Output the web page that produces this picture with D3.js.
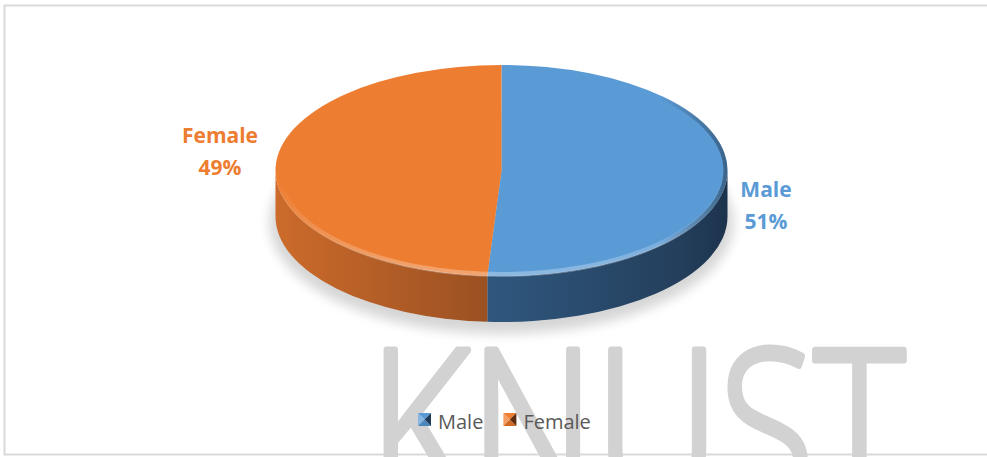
<!DOCTYPE html>
<html>
<head>
<meta charset="utf-8">
<script src="https://cdn.jsdelivr.net/npm/d3@7"></script>
<style>
  body { margin: 0; background: #fff; }
  svg { display: block; }
</style>
</head>
<body>
<div id="chart"></div>
<script>
// data
let categories = ["Male", "Female"];
let shares = [51, 49];
let colors = ["#5b9bd5", "#ed7d31"];

let svgWidth = 987;
let svgHeight = 457;

let svg = d3.select("#chart")
    .append("svg")
    .attr("width", svgWidth)
    .attr("height", svgHeight);

let defs = svg.append("defs");

// chart area border
svg.append("rect")
    .attr("x", 4.5)
    .attr("y", 5.5)
    .attr("width", 1000)
    .attr("height", 449)
    .attr("fill", "#fff")
    .attr("stroke", "#d9d9d9")
    .attr("stroke-width", 2);

// watermark behind everything else
svg.append("text")
    .attr("x", 369)
    .attr("y", 503)
    .attr("textLength", 536)
    .attr("lengthAdjust", "spacingAndGlyphs")
    .attr("font-family", "'Open Sans', 'Noto Sans', sans-serif")
    .attr("font-weight", 300)
    .attr("font-size", 215)
    .attr("fill", "#d2d2d2")
    .attr("stroke", "#d2d2d2")
    .attr("stroke-width", 7)
    .attr("stroke-linejoin", "round")
    .text("KNUST");

// ellipse geometry of the 3d pie
let cx = 501.5, cy = 170.5, rx = 226, ry = 105.5, depth = 46;

function pt(a, dy) {
    return [cx + rx * Math.sin(a), cy - ry * Math.cos(a) + (dy || 0)];
}

let pie = d3.pie().sort(null).value(d => d);
let arcs = pie(shares);

// soft shadow under the pie
let blur = defs.append("filter").attr("id", "shadow")
    .attr("x", "-20%").attr("y", "-30%").attr("width", "140%").attr("height", "160%");
blur.append("feGaussianBlur").attr("stdDeviation", 6);

svg.append("ellipse")
    .attr("cx", cx)
    .attr("cy", cy + depth + 6)
    .attr("rx", rx + 6)
    .attr("ry", ry + 6)
    .attr("fill", "#000")
    .attr("opacity", 0.16)
    .attr("filter", "url(#shadow)");

// gradients for the side walls
let wallStops = [
    [["0%", "#cc6b2b"], ["100%", "#9a5022"]],
    [["0%", "#2f577e"], ["80%", "#243f5c"], ["100%", "#1c334d"]]
];
let wallRange = [[cx - rx, cx - 12], [cx - 12, cx + rx]];
let wallIds = ["wallFemale", "wallMale"];
[1, 0].forEach((si, k) => {
    let g = defs.append("linearGradient")
        .attr("id", wallIds[k])
        .attr("gradientUnits", "userSpaceOnUse")
        .attr("x1", wallRange[k][0]).attr("x2", wallRange[k][1])
        .attr("y1", 0).attr("y2", 0);
    wallStops[k].forEach(s => g.append("stop").attr("offset", s[0]).attr("stop-color", s[1]));
});

// walls: only the front half (angles between 90 and 270 deg) can be seen
let lo = Math.PI / 2, hi = Math.PI * 1.5;
arcs.forEach((d, i) => {
    let a1 = Math.max(d.startAngle, lo);
    let a2 = Math.min(d.endAngle, hi);
    if (a2 <= a1) return;
    let t1 = pt(a1), t2 = pt(a2), b1 = pt(a1, depth), b2 = pt(a2, depth);
    let p = `M${t1} A${rx},${ry} 0 0 1 ${t2} L${b2} A${rx},${ry} 0 0 0 ${b1} Z`;
    svg.append("path")
        .attr("d", p)
        .attr("fill", `url(#${i === 0 ? "wallMale" : "wallFemale"})`);
});

// top faces
arcs.forEach((d, i) => {
    let s = pt(d.startAngle), e = pt(d.endAngle);
    let large = d.endAngle - d.startAngle > Math.PI ? 1 : 0;
    svg.append("path")
        .attr("d", `M${cx},${cy} L${s} A${rx},${ry} 0 ${large} 1 ${e} Z`)
        .attr("fill", colors[i]);
});

// bevel on the rim of the top face
let rimLight = defs.append("linearGradient").attr("id", "rimLight")
    .attr("x1", 0).attr("x2", 0).attr("y1", 0).attr("y2", 1);
rimLight.append("stop").attr("offset", "0%").attr("stop-color", "#fff").attr("stop-opacity", 0);
rimLight.append("stop").attr("offset", "55%").attr("stop-color", "#fff").attr("stop-opacity", 0);
rimLight.append("stop").attr("offset", "100%").attr("stop-color", "#fff").attr("stop-opacity", 0.3);

let rimDark = defs.append("linearGradient").attr("id", "rimDark")
    .attr("x1", 0).attr("x2", 1).attr("y1", 0).attr("y2", 0);
rimDark.append("stop").attr("offset", "0%").attr("stop-color", "#000").attr("stop-opacity", 0);
rimDark.append("stop").attr("offset", "85%").attr("stop-color", "#000").attr("stop-opacity", 0);
rimDark.append("stop").attr("offset", "100%").attr("stop-color", "#000").attr("stop-opacity", 0.35);

svg.append("ellipse")
    .attr("cx", cx).attr("cy", cy + 1)
    .attr("rx", rx - 3).attr("ry", ry - 2.5)
    .attr("fill", "none")
    .attr("stroke", "url(#rimLight)")
    .attr("stroke-width", 5);

svg.append("ellipse")
    .attr("cx", cx).attr("cy", cy)
    .attr("rx", rx - 2).attr("ry", ry - 1.5)
    .attr("fill", "none")
    .attr("stroke", "url(#rimDark)")
    .attr("stroke-width", 4);

// data labels
let labelFont = "'Open Sans', 'Noto Sans', sans-serif";
let labelPos = [[766, 197], [220, 143]];
arcs.forEach((d, i) => {
    let t = svg.append("text")
        .attr("x", labelPos[i][0])
        .attr("y", labelPos[i][1])
        .attr("text-anchor", "middle")
        .attr("font-family", labelFont)
        .attr("font-weight", 700)
        .attr("font-size", 21)
        .attr("fill", colors[i]);
    t.append("tspan").text(categories[i]);
    t.append("tspan")
        .attr("x", labelPos[i][0])
        .attr("dy", 32)
        .text(shares[i] + "%");
});

// legend with pyramid-style markers
let markerShades = [
    { top: "#5b9bd5", left: "#86b6e2", bottom: "#4b86bd", right: "#1f3a58" },
    { top: "#ed7d31", left: "#f39d62", bottom: "#cf6925", right: "#5c2e0f" }
];
let legend = svg.append("g").attr("transform", "translate(418, 413)");
let lx = 0;
categories.forEach((c, i) => {
    let g = legend.append("g").attr("transform", `translate(${lx},0)`);
    let s = 13, m = s / 2;
    let sh = markerShades[i];
    g.append("path").attr("d", `M0,0 L${s},0 L${m},${m} Z`).attr("fill", sh.top);
    g.append("path").attr("d", `M0,0 L${m},${m} L0,${s} Z`).attr("fill", sh.left);
    g.append("path").attr("d", `M0,${s} L${m},${m} L${s},${s} Z`).attr("fill", sh.bottom);
    g.append("path").attr("d", `M${s},0 L${s},${s} L${m},${m} Z`).attr("fill", sh.right);
    let t = g.append("text")
        .attr("x", 20)
        .attr("y", 16)
        .attr("font-family", labelFont)
        .attr("font-size", 20)
        .attr("fill", "#595959")
        .text(c);
    lx += 20 + t.node().getComputedTextLength() + 20;
});
</script>
</body>
</html>
